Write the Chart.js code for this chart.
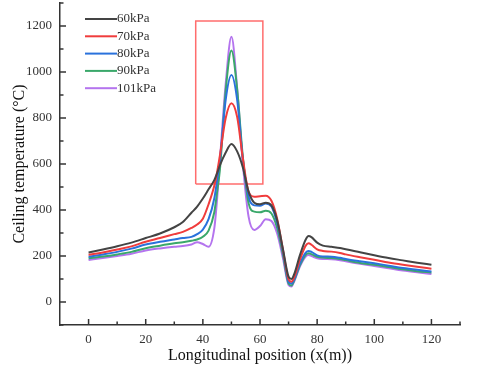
<!DOCTYPE html>
<html lang="en">
<head>
<meta charset="UTF-8">
<title>Ceiling temperature</title>
<style>
  html, body { margin: 0; padding: 0; background: #fff; }
</style>
</head>
<body>
<canvas id="chart" width="480" height="369"></canvas>
<script src="https://cdn.jsdelivr.net/npm/chart.js@4.4.0/dist/chart.umd.min.js"></script>
<script>
    // longitudinal position (m) shared by all curves
    var positions = [0, 5, 10, 15, 20, 25, 30, 33, 36, 38, 40, 42, 44, 45, 46, 48, 50, 52, 54, 56, 58, 60, 62, 64, 66, 68, 70, 71, 72, 74, 76, 77, 78, 80, 82, 85, 88, 90, 95, 100, 105, 110, 115, 120];

    var seriesNames = ['60kPa', '70kPa', '80kPa', '90kPa', '101kPa'];
    var seriesColors = ['#444444', '#f03c3c', '#2a72dc', '#3aa86a', '#b474ee'];

    var t60 = [215, 228, 242, 258, 278, 298, 325, 348, 388, 415, 450, 490, 530, 560, 595, 650, 687, 655, 585, 480, 432, 425, 432, 420, 355, 232, 110, 100, 122, 205, 272, 287, 282, 258, 245, 240, 235, 229, 216, 203, 191, 181, 171, 162];
    var t70 = [205, 215, 228, 242, 262, 278, 295, 305, 322, 337, 362, 425, 505, 565, 640, 800, 864, 805, 625, 480, 458, 460, 462, 440, 362, 230, 98, 88, 108, 185, 245, 255, 249, 229, 222, 219, 213, 207, 195, 184, 172, 162, 153, 145];
    var t80 = [197, 207, 218, 232, 250, 262, 272, 278, 283, 295, 315, 360, 450, 530, 620, 880, 987, 880, 620, 458, 420, 418, 428, 415, 342, 222, 88, 80, 100, 168, 215, 222, 218, 203, 198, 197, 192, 187, 177, 168, 158, 148, 140, 133];
    var t90 = [190, 198, 207, 218, 234, 245, 255, 260, 266, 272, 284, 310, 390, 480, 580, 920, 1093, 925, 630, 430, 393, 390, 397, 385, 322, 208, 80, 72, 95, 160, 205, 212, 208, 197, 193, 191, 187, 182, 170, 162, 152, 142, 134, 128];
    var t101 = [183, 191, 200, 210, 224, 233, 240, 243, 250, 260, 252, 240, 320, 450, 620, 950, 1153, 930, 600, 371, 313, 330, 360, 352, 298, 192, 74, 67, 90, 155, 198, 204, 200, 190, 187, 186, 182, 177, 166, 157, 147, 137, 129, 122];
    var seriesValues = [t60, t70, t80, t90, t101];

    var xTickLabels = [0, 20, 40, 60, 80, 100, 120];
    var xMinorTicks = [10, 30, 50, 70, 90, 110, 130];
    var yTickLabels = [0, 200, 400, 600, 800, 1000, 1200];
    var yMinorTicks = [-100, 100, 300, 500, 700, 900, 1100, 1300];

    // highlighted peak region (data units)
    var boxX = [37.5, 61];
    var boxY = [513, 1222];

    var serif = '"Liberation Serif", "Times New Roman", serif';
    var ink = '#333333';

    var datasets = [];
    for (var s = 0; s < seriesNames.length; s++) {
        var pts = [];
        for (var i = 0; i < positions.length; i++) {
            pts.push({x: positions[i], y: seriesValues[s][i]});
        }
        datasets.push({
            label: seriesNames[s],
            data: pts,
            borderColor: seriesColors[s],
            borderWidth: 2,
            pointRadius: 0,
            fill: false,
            cubicInterpolationMode: 'monotone'
        });
    }
    datasets.push({
        label: 'box',
        data: [
            {x: boxX[0], y: boxY[0]}, {x: boxX[1], y: boxY[0]},
            {x: boxX[1], y: boxY[1]}, {x: boxX[0], y: boxY[1]},
            {x: boxX[0], y: boxY[0]}
        ],
        borderColor: 'rgba(255,60,60,0.75)',
        borderWidth: 1.5,
        pointRadius: 0,
        tension: 0,
        fill: false
    });

    // legend inside the plot, top left
    var cornerLegend = {
        id: 'cornerLegend',
        afterDraw: function (chart) {
            var ctx = chart.ctx;
            ctx.save();
            ctx.font = '13px ' + serif;
            ctx.textBaseline = 'middle';
            ctx.textAlign = 'left';
            for (var i = 0; i < seriesNames.length; i++) {
                var y = 19 + i * 17.3;
                ctx.strokeStyle = seriesColors[i];
                ctx.lineWidth = 2;
                ctx.beginPath();
                ctx.moveTo(85, y);
                ctx.lineTo(117, y);
                ctx.stroke();
                ctx.fillStyle = ink;
                ctx.fillText(seriesNames[i], 117, y);
            }
            ctx.restore();
        }
    };

    // tick marks pointing into the plot
    var innerTicks = {
        id: 'innerTicks',
        afterDraw: function (chart) {
            var ctx = chart.ctx;
            var xs = chart.scales.x, ys = chart.scales.y;
            var area = chart.chartArea;
            ctx.save();
            ctx.strokeStyle = ink;
            ctx.lineWidth = 1.5;
            function mark(x1, y1, x2, y2) {
                ctx.beginPath();
                ctx.moveTo(x1, y1);
                ctx.lineTo(x2, y2);
                ctx.stroke();
            }
            xTickLabels.forEach(function (v) {
                var p = xs.getPixelForValue(v);
                mark(p, area.bottom, p, area.bottom - 6);
            });
            xMinorTicks.forEach(function (v) {
                var p = xs.getPixelForValue(v);
                mark(p, area.bottom, p, area.bottom - 3.5);
            });
            yTickLabels.forEach(function (v) {
                var p = ys.getPixelForValue(v);
                mark(area.left, p, area.left + 6, p);
            });
            yMinorTicks.forEach(function (v) {
                var p = ys.getPixelForValue(v);
                mark(area.left, p, area.left + 3.5, p);
            });
            ctx.restore();
        }
    };

    function plain(v) { return String(v); }

    new Chart(document.getElementById('chart'), {
        type: 'line',
        data: {datasets: datasets},
        plugins: [cornerLegend, innerTicks],
        options: {
            responsive: false,
            animation: false,
            layout: {padding: {top: 3, right: 20, left: 0, bottom: 0}},
            plugins: {
                legend: {display: false},
                tooltip: {enabled: false}
            },
            scales: {
                x: {
                    type: 'linear',
                    min: -10,
                    max: 130,
                    afterBuildTicks: function (scale) {
                        scale.ticks = xTickLabels.map(function (v) { return {value: v}; });
                    },
                    afterFit: function (scale) {
                        scale.height = 44;
                        scale.paddingLeft = 0;
                        scale.paddingRight = 0;
                    },
                    grid: {drawOnChartArea: false, drawTicks: false},
                    border: {color: ink, width: 1.5},
                    ticks: {color: ink, padding: 7, font: {family: serif, size: 13}, maxRotation: 0, callback: plain},
                    title: {
                        display: true,
                        text: 'Longitudinal position (x(m))',
                        color: '#111',
                        font: {family: serif, size: 16},
                        padding: {top: 0, bottom: 4}
                    }
                },
                y: {
                    min: -100,
                    max: 1300,
                    afterBuildTicks: function (scale) {
                        scale.ticks = yTickLabels.map(function (v) { return {value: v}; });
                    },
                    afterFit: function (scale) {
                        scale.width = 60;
                        scale.paddingTop = 0;
                        scale.paddingBottom = 0;
                    },
                    grid: {drawOnChartArea: false, drawTicks: false},
                    border: {color: ink, width: 1.5},
                    ticks: {color: ink, padding: 8, font: {family: serif, size: 13}, callback: plain},
                    title: {
                        display: true,
                        text: 'Ceiling temperature (°C)',
                        color: '#111',
                        font: {family: serif, size: 16},
                        padding: {top: 10, bottom: 0}
                    }
                }
            }
        }
    });
</script>
</body>
</html>
